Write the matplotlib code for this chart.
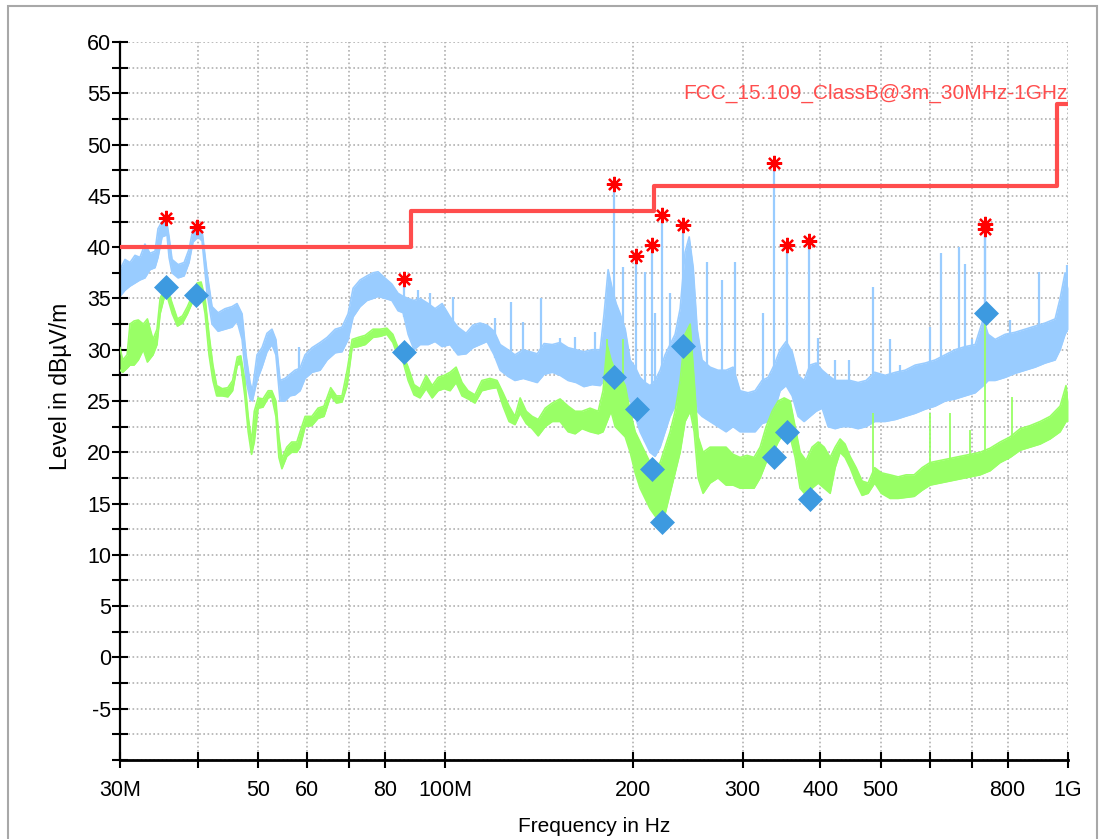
import numpy as np
import matplotlib.pyplot as plt
from matplotlib.patches import Rectangle
from matplotlib.ticker import FixedLocator, NullLocator

plt.rcParams['font.family'] = ['Liberation Sans', 'DejaVu Sans']

# limit line FCC 15.109 class B @3m (MHz, dBuV/m)
limit_f = [30, 88, 216, 960, 1000]
limit_lv = [40.0, 43.5, 46.0, 54.0, 54.0]

# peak trace (light blue), lower / upper edge of the noisy band
blue_f = [30.0, 30.56, 31.13, 31.71, 32.3, 32.9, 33.52, 34.15, 34.53, 35.05, 35.7, 35.97,
          36.37, 37.19, 38.03, 38.73, 39.3, 40.04, 40.64, 41.4, 42.17, 43.12, 44.25, 45.4,
          46.25, 47.12, 47.82, 48.53, 48.95, 49.8, 50.73, 51.67, 52.63, 53.4, 54.23, 55.23,
          56.25, 57.3, 58.4, 59.49, 61.05, 62.88, 64.54, 66.5, 68.2, 69.75, 71.06, 72.91,
          74.8, 76.5, 77.93, 79.9, 82.0, 83.9, 85.5, 87.1, 89.0, 91.03, 93.8, 96.2, 98.75,
          101.7, 104.7, 107.9, 110.7, 113.6, 116.6, 119.7, 122.4, 126.0, 129.3, 133.3, 136.8,
          140.4, 144.0, 148.4, 152.8, 157.4, 162.1, 166.9, 172.0, 177.2, 179.8, 182.5, 185.2,
          188.0, 190.8, 194.4, 198.0, 201.7, 205.4, 209.2, 213.1, 217.1, 221.2, 225.3, 229.5,
          233.8, 238.2, 242.6, 246.3, 250.0, 253.7, 258.3, 266.1, 274.0, 282.3, 289.7, 297.3,
          306.2, 314.3, 322.5, 329.8, 337.3, 344.8, 352.5, 360.5, 368.5, 376.7, 385.1, 393.9,
          402.8, 411.8, 422.6, 433.6, 446.6, 460.0, 473.9, 489.2, 508.4, 528.6, 547.5, 568.2,
          589.4, 611.7, 634.8, 658.8, 683.5, 709.3, 731.0, 744.2, 763.7, 792.5, 822.5, 853.4,
          885.6, 918.9, 953.5, 971.3, 989.3, 1000.0]
blue_lo = [35.2, 35.8, 36.2, 36.5, 36.8, 37.0, 37.8, 38.0, 39.0, 41.0, 41.2, 39.0,
           37.5, 37.0, 37.2, 38.5, 40.5, 41.0, 40.6, 35.5, 32.5, 31.8, 32.0, 32.2,
           32.8, 31.0, 27.0, 25.2, 25.0, 27.0, 28.3, 29.8, 30.5, 29.5, 25.0, 25.0,
           25.5, 25.6, 26.0, 27.2, 27.8, 28.0, 29.0, 29.7, 29.8, 31.0, 33.2, 34.2,
           34.8, 35.0, 35.2, 35.0, 34.8, 33.8, 33.6, 31.5, 30.0, 30.5, 30.5, 30.8, 30.3,
           30.5, 29.5, 29.6, 30.2, 30.5, 30.8, 29.5, 28.0, 27.4, 27.0, 27.2, 27.0,
           26.8, 27.6, 27.8, 27.5, 27.0, 26.8, 26.4, 26.6, 26.5, 27.0, 28.0, 27.5,
           28.0, 27.3, 26.0, 25.0, 23.5, 22.0, 21.0, 20.0, 19.6, 20.5, 22.0, 23.5,
           24.5, 26.0, 28.0, 28.5, 27.0, 24.0, 23.5, 23.0, 22.5, 22.0, 22.5, 22.0,
           22.0, 22.0, 22.8, 23.0, 24.0, 26.0, 26.5, 25.5, 23.5, 23.0, 23.5, 24.0,
           24.3, 22.5, 22.3, 22.5, 22.5, 22.3, 22.5, 23.0, 23.0, 23.2, 23.5, 23.8,
           24.2, 24.5, 25.0, 25.2, 25.5, 25.8, 26.5, 27.0, 27.0, 27.3, 27.7, 28.0,
           28.3, 28.7, 29.0, 30.0, 31.5, 32.0]
blue_hi = [37.8, 38.8, 38.5, 39.2, 39.0, 40.3, 39.4, 39.6, 41.8, 42.5, 42.3, 41.0,
           38.8, 38.3, 38.5, 39.8, 41.8, 41.9, 41.6, 37.5, 34.2, 33.6, 34.0, 34.2,
           34.5, 33.5, 29.5, 26.8, 26.0, 29.5, 30.2, 31.6, 32.0, 31.0, 27.0, 27.2,
           27.6, 28.0, 28.2, 29.5, 30.2, 30.7, 31.2, 32.0, 32.2, 33.5, 36.0, 36.8,
           37.2, 37.5, 37.6, 37.0, 36.4, 35.5, 35.2, 35.0, 34.8, 35.0, 34.5, 34.0, 34.5,
           33.2, 32.2, 31.6, 32.4, 32.6, 32.4, 31.8, 30.5, 30.0, 29.5, 30.0, 29.8,
           29.6, 30.6, 30.5, 30.7, 30.2, 30.0, 29.8, 30.0, 30.0, 33.5, 37.8, 36.0,
           34.5, 33.5, 32.0, 29.0, 28.3, 27.3, 26.8, 26.5, 27.0, 28.0, 29.5, 30.5,
           31.5, 34.0, 39.5, 41.0, 38.0, 32.0, 29.0, 28.3, 28.0, 28.0, 28.3, 26.0,
           25.8, 26.0, 27.0, 27.3, 28.5, 30.0, 30.8, 29.8, 27.5, 27.0, 28.5, 28.7,
           28.0, 27.5, 27.0, 27.0, 27.0, 26.8, 27.0, 27.8, 27.5, 27.8, 28.0, 28.5,
           28.7, 29.0, 29.5, 30.0, 30.3, 30.5, 33.0, 31.5, 31.0, 31.5, 31.7, 32.0,
           32.3, 32.6, 33.0, 35.0, 37.5, 36.0]

# narrow spikes of the peak trace
bspike_f = [58.2, 90.4, 94.5, 102.8, 120.2, 127.4, 133.3, 142.4, 152.8, 161.5, 174.0,
            193.0, 209.2, 217.1, 229.5, 263.2, 278.2, 291.9, 323.8,
            396.9, 422.6, 445.0, 486.4, 517.9, 537.4, 600.5, 625.4, 668.5, 683.5, 701.5,
            722.5, 807.3, 837.7, 898.7, 936.0, 995.0]
bspike_top = [30.3, 35.8, 35.5, 35.1, 33.1, 34.7, 32.7, 35.0, 31.1, 31.2, 31.7,
              38.1, 37.6, 33.6, 35.5, 38.6, 36.8, 38.6, 33.6,
              31.1, 29.0, 29.0, 36.1, 31.0, 28.5, 32.2, 39.4, 40.0, 38.4, 31.0,
              31.0, 32.9, 30.5, 37.6, 32.0, 38.3]

# average trace (light green)
green_f = [30.0, 30.3, 30.8, 31.13, 31.6, 32.1, 32.7, 33.2, 33.9, 34.4, 34.8, 35.4, 35.8,
           36.4, 37.1, 37.8, 38.5, 39.2, 39.9, 40.5, 41.1, 41.7, 42.3, 42.9, 43.8, 44.7,
           45.5, 46.3, 46.9, 47.6, 48.2, 48.8, 49.3, 50.0, 50.9, 51.9, 52.6, 53.4, 54.0,
           54.6, 55.6, 56.6, 57.7, 58.4, 59.5, 61.0, 62.4, 63.8, 65.4, 66.8, 68.2, 69.5,
           70.8, 72.4, 74.3, 76.5, 78.5, 80.5, 82.3, 83.9, 85.5, 87.1, 89.0, 91.0, 93.1,
           95.2, 97.3, 99.5, 101.7, 104.0, 106.3, 108.7, 111.5, 114.4, 117.9, 121.0, 123.7,
           126.5, 129.3, 131.8, 134.8, 137.8, 140.9, 144.6, 148.4, 152.8, 157.4, 161.5,
           165.7, 170.7, 175.9, 179.1, 181.8, 184.5, 187.3, 190.8, 194.4, 198.0, 201.7,
           205.4, 209.2, 213.1, 217.1, 221.2, 225.3, 229.5, 233.8, 238.2, 242.6, 247.2,
           250.9, 254.6, 259.3, 266.1, 274.0, 282.3, 289.7, 297.3, 305.1, 313.1, 320.2,
           327.4, 334.8, 342.3, 350.0, 357.8, 364.5, 371.2, 379.5, 388.0, 396.9, 405.8,
           414.9, 422.6, 430.4, 438.4, 446.6, 456.7, 466.9, 477.4, 489.2, 501.3, 517.9,
           533.5, 549.5, 566.1, 583.0, 600.5, 623.1, 646.6, 671.0, 696.3, 722.5, 749.7,
           778.0, 807.3, 837.7, 869.3, 902.0, 936.0, 971.3, 992.6, 1000.0]
green_lo = [28.0, 27.8, 28.2, 28.5, 28.5, 29.0, 30.0, 28.8, 29.5, 30.5, 33.5, 35.3, 35.0,
            33.5, 32.3, 32.6, 33.5, 34.6, 35.8, 35.8, 33.5, 29.5, 27.0, 25.5, 25.5, 25.4,
            26.0, 28.5, 28.6, 25.5, 22.0, 19.8, 21.0, 24.3, 24.4, 25.3, 25.4, 23.5, 19.5,
            18.4, 19.6, 20.0, 20.0, 20.5, 22.5, 22.6, 23.3, 23.5, 25.5, 24.8, 24.9, 26.5,
            30.2, 30.3, 30.5, 31.2, 31.3, 31.5, 30.7, 29.3, 28.8, 27.0, 25.6, 25.3, 26.2,
            25.3, 26.0, 26.2, 26.0, 26.8, 25.5, 25.2, 24.8, 26.0, 26.2, 26.3, 24.5,
            23.0, 22.7, 23.8, 22.8, 22.3, 21.6, 22.5, 23.0, 23.0, 22.0, 21.8,
            22.3, 22.0, 21.8, 22.0, 23.0, 24.0, 22.5, 22.0, 21.5, 20.0, 18.0,
            16.5, 15.5, 14.5, 13.8, 13.2, 14.0, 16.0, 18.0, 20.0, 23.0, 24.0,
            22.0, 17.5, 16.0, 17.0, 17.5, 16.8, 16.8, 16.5, 16.5, 16.5, 17.5,
            19.0, 19.8, 21.0, 22.0, 21.5, 19.5, 16.5, 15.8, 16.5, 17.0, 16.5,
            16.0, 18.5, 20.0, 19.5, 18.5, 17.0, 15.8, 16.0, 17.0, 16.0, 15.5,
            15.5, 15.6, 15.7, 16.3, 16.8, 17.0, 17.2, 17.4, 17.6, 17.8, 18.2,
            19.0, 19.5, 20.2, 20.5, 20.8, 21.3, 22.0, 23.0, 23.0]
green_hi = [30.2, 29.0, 29.5, 32.5, 32.8, 32.9, 32.5, 33.0, 31.0, 32.0, 35.0, 36.0, 35.8,
            34.5, 33.0, 33.3, 34.2, 35.3, 36.5, 36.6, 35.0, 31.5, 28.5, 26.5, 26.2, 26.3,
            27.0, 29.3, 29.4, 27.0, 23.5, 21.0, 24.0, 25.3, 25.2, 26.0, 26.0, 25.0, 21.5,
            19.4, 20.5, 21.0, 21.0, 22.0, 23.5, 23.5, 24.3, 24.5, 26.3, 25.5, 25.5, 28.0,
            31.0, 31.2, 31.4, 32.0, 32.0, 32.1, 31.5, 30.2, 29.5, 28.3, 26.6, 26.2, 27.5,
            26.5, 27.3, 27.5, 27.8, 28.3, 26.8, 26.0, 25.6, 27.0, 27.2, 27.0, 25.8,
            24.5, 23.5, 25.3, 24.0, 23.5, 23.2, 24.3, 24.8, 25.2, 24.5, 24.0,
            24.0, 24.3, 24.0, 26.0, 30.5, 29.0, 28.0, 27.5, 26.5, 24.0, 22.0,
            21.0, 20.0, 19.0, 18.5, 19.0, 20.5, 22.0, 24.0, 27.0, 31.5, 32.5,
            27.0, 21.5, 20.0, 20.5, 20.5, 20.5, 19.8, 19.5, 19.7, 19.5, 20.5,
            22.5, 24.0, 25.0, 25.3, 25.0, 22.5, 20.0, 19.2, 20.5, 21.0, 20.5,
            19.5, 20.5, 21.3, 20.8, 19.6, 18.5, 17.2, 17.0, 18.5, 18.0, 17.8,
            17.6, 17.8, 17.8, 18.5, 19.0, 19.2, 19.4, 19.6, 19.8, 20.0, 20.4,
            21.0, 21.5, 22.3, 22.6, 23.0, 23.5, 24.5, 26.5, 25.0]

gspike_f = [181.8, 193.0, 486.4, 600.5, 646.6, 696.3, 736.0, 813.0]
gspike_top = [31.0, 31.0, 23.8, 23.8, 23.8, 22.2, 32.6, 25.4]

# peak search results (red asterisks) and final measurements (blue diamonds)
peak_f = [35.6, 39.9, 85.8, 186.6, 202.4, 214.7, 222.8, 240.9, 337.3, 353.8, 383.7, 736.0, 737.0]
peak_lv = [42.8, 42.0, 36.9, 46.2, 39.1, 40.2, 43.1, 42.2, 48.2, 40.2, 40.6, 42.3, 41.8]
final_f = [35.6, 39.8, 85.8, 186.6, 202.9, 215.0, 223.0, 240.9, 337.3, 353.8, 384.5, 738.0]
final_lv = [36.1, 35.3, 29.8, 27.3, 24.2, 18.35, 13.25, 30.4, 19.5, 22.0, 15.4, 33.55]

xticks = [30, 40, 50, 60, 70, 80, 100, 200, 300, 400, 500, 600, 700, 800, 1000]
xticklabels = ['30M', '', '50', '60', '', '80', '100M', '200', '300', '400', '500', '', '', '800', '1G']

c_blue = '#99ccff'
c_green = '#99ff66'
c_limit = '#ff4d4d'

fig = plt.figure(figsize=(11, 8.39), dpi=100)
ax = fig.add_axes([0.10909, 0.09416, 0.86182, 0.85578])

fig.patches.append(Rectangle((8 / 1100, -0.02), 1089 / 1100, 1.02 - 6 / 839,
                             transform=fig.transFigure, fill=False,
                             edgecolor='#a8a8a8', lw=1.5))

ax.set_xscale('log')
ax.set_xlim(30, 1000)
ax.set_ylim(-10, 60)

# peak trace
ax.fill_between(blue_f, blue_lo, blue_hi, color=c_blue, lw=0, zorder=2)
ax.plot(blue_f, blue_lo, color=c_blue, lw=1.2, zorder=2)
ax.plot(blue_f, blue_hi, color=c_blue, lw=1.2, zorder=2)
lf_b = np.log10(blue_f)
base = np.interp(np.log10(bspike_f), lf_b, blue_lo)
ax.vlines(bspike_f, base, bspike_top, color=c_blue, lw=1.6, zorder=2)
base = np.interp(np.log10(peak_f), lf_b, blue_lo)
ax.vlines(peak_f, base, peak_lv, color=c_blue, lw=1.6, zorder=2)

# average trace
ax.fill_between(green_f, green_lo, green_hi, color=c_green, lw=0, zorder=3)
ax.plot(green_f, green_lo, color=c_green, lw=1.2, zorder=3)
ax.plot(green_f, green_hi, color=c_green, lw=1.2, zorder=3)
base = np.interp(np.log10(gspike_f), np.log10(green_f), green_lo)
ax.vlines(gspike_f, base, gspike_top, color=c_green, lw=1.3, zorder=3)

# limit
ax.step(limit_f, limit_lv, where='post', color=c_limit, lw=3, zorder=4)
ax.text(1000, 54.5, 'FCC_15.109_ClassB@3m_30MHz-1GHz', color=c_limit,
        fontsize=15, ha='right', va='baseline', zorder=4)

ax.plot(final_f, final_lv, ls='none', marker='D', ms=12, color='#3d9ae0',
        mec='#3d9ae0', mew=0.5, zorder=5)
ax.plot(peak_f, peak_lv, ls='none', marker=(8, 2, 0), ms=11, mew=1.6,
        color='#ff0000', zorder=6)

# axes styling
for s in ['top', 'right']:
    ax.spines[s].set_visible(False)
ax.spines['left'].set_linewidth(1.6)
ax.spines['bottom'].set_linewidth(2.0)

ax.xaxis.set_major_locator(FixedLocator(xticks))
ax.xaxis.set_minor_locator(NullLocator())
ax.set_xticklabels(xticklabels)
ax.set_yticks(np.arange(-10, 61, 5))
ax.set_yticklabels([''] + [str(v) for v in range(-5, 61, 5)])
ax.set_yticks(np.arange(-7.5, 60, 5), minor=True)

ax.tick_params(axis='x', which='major', direction='inout', length=11, width=1.5,
               labelsize=15.5, pad=9)
ax.tick_params(axis='y', which='both', direction='inout', length=11, width=1.5,
               labelsize=15.5, pad=1)

ax.grid(True, which='both', color='#b0b0b0', ls=(0, (1, 1.5)), lw=1.2)
ax.set_axisbelow(True)

fig.text(594 / 1100, 1 - 826 / 839, 'Frequency in Hz', fontsize=15,
         ha='center', va='center')
fig.text(60 / 1100, 1 - 386 / 839, 'Level in dBµV/m', fontsize=16.5,
         rotation=90, ha='center', va='center')

fig.savefig('out.png', dpi=100)
